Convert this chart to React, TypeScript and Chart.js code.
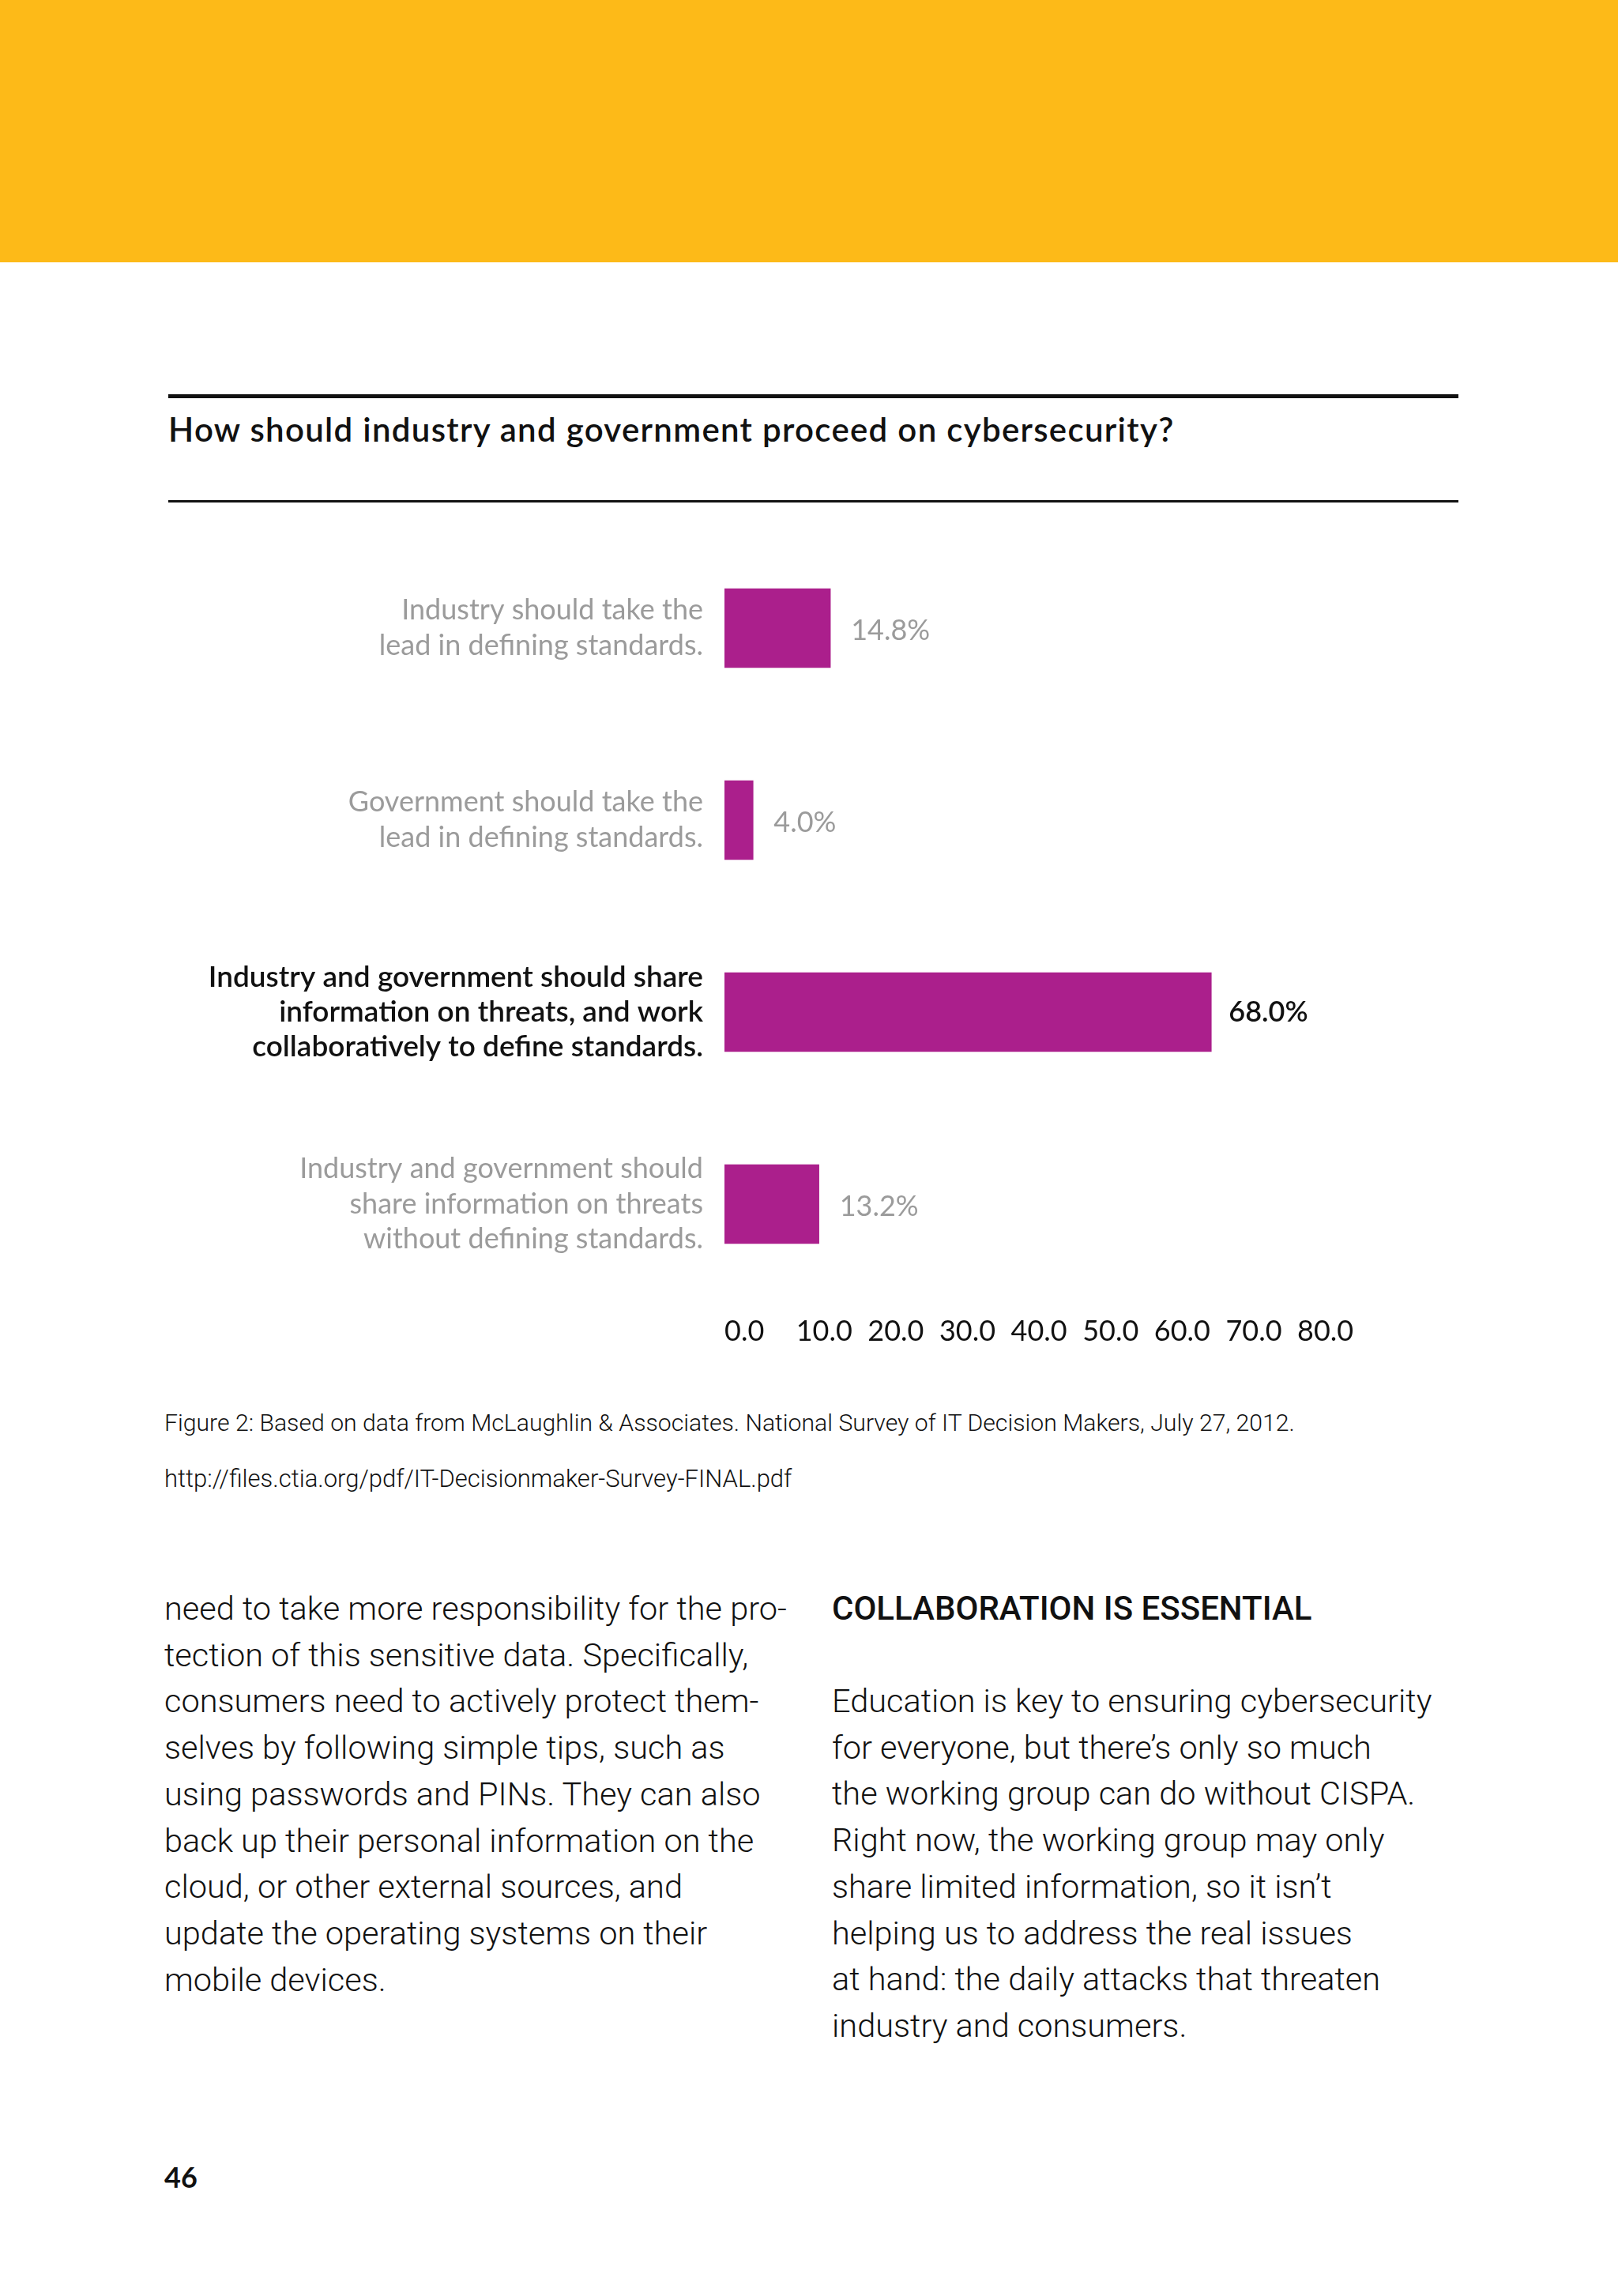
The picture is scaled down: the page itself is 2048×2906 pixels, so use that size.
import { useEffect, useRef } from 'react';
import { Chart, registerables } from 'chart.js';

Chart.register(...registerables);

// chart data
const categories: string[][] = [
  ['Industry should take the', 'lead in defining standards.'],
  ['Government should take the', 'lead in defining standards.'],
  ['Industry and government should share', 'information on threats, and work', 'collaboratively to define standards.'],
  ['Industry and government should', 'share information on threats', 'without defining standards.'],
];
const shares = [14.8, 4.0, 68.0, 13.2];
const highlightIndex = 2;
const axisMax = 80;
const axisStep = 10;

// page text
const title = 'How should industry and government proceed on cybersecurity?';
const caption = 'Figure 2: Based on data from McLaughlin & Associates. National Survey of IT Decision Makers, July 27, 2012.';
const sourceUrl = 'http://files.ctia.org/pdf/IT-Decisionmaker-Survey-FINAL.pdf';
const leftColumn = [
  'need to take more responsibility for the pro-',
  'tection of this sensitive data. Specifically,',
  'consumers need to actively protect them-',
  'selves by following simple tips, such as',
  'using passwords and PINs. They can also',
  'back up their personal information on the',
  'cloud, or other external sources, and',
  'update the operating systems on their',
  'mobile devices.',
];
const rightHeading = 'COLLABORATION IS ESSENTIAL';
const rightColumn = [
  'Education is key to ensuring cybersecurity',
  'for everyone, but there\u2019s only so much',
  'the working group can do without CISPA.',
  'Right now, the working group may only',
  'share limited information, so it isn\u2019t',
  'helping us to address the real issues',
  'at hand: the daily attacks that threaten',
  'industry and consumers.',
];

const BAR = '#ab1f8c';
const GREY = '#9b9b9b';
const INK = '#111111';
const CHART_FONT = 'Lato, "Open Sans", sans-serif';
const TEXT_FONT = 'Roboto, "Noto Sans", sans-serif';

// percent labels at the end of each bar
const valueLabels = {
  id: 'valueLabels',
  afterDatasetsDraw(chart: any) {
    const { ctx } = chart;
    const meta = chart.getDatasetMeta(0);
    ctx.save();
    ctx.textBaseline = 'middle';
    ctx.textAlign = 'left';
    meta.data.forEach((bar: any, i: number) => {
      const hi = i === highlightIndex;
      ctx.font = `${hi ? 600 : 400} 36px ${CHART_FONT}`;
      ctx.fillStyle = hi ? INK : GREY;
      ctx.fillText(shares[i].toFixed(1) + '%', bar.x + (hi ? 22 : 26), bar.y + (hi ? 0 : 3));
    });
    ctx.restore();
  },
};

function Lines({ lines, top, left, size, lh, weight = 300, color = INK, family = TEXT_FONT, spacing = 0 }: any) {
  return (
    <div
      style={{
        position: 'absolute',
        top,
        left,
        fontFamily: family,
        fontSize: size,
        lineHeight: `${lh}px`,
        fontWeight: weight,
        letterSpacing: spacing,
        color,
        whiteSpace: 'nowrap',
      }}
    >
      {lines.map((l: string, i: number) => (
        <div key={i}>{l}</div>
      ))}
    </div>
  );
}

export default function App() {
  const canvasRef = useRef<HTMLCanvasElement>(null);
  const chartRef = useRef<Chart | null>(null);

  useEffect(() => {
    document.body.style.margin = '0';
    if (!canvasRef.current) return;
    if (chartRef.current) chartRef.current.destroy();

    chartRef.current = new Chart(canvasRef.current, {
      type: 'bar',
      data: {
        labels: categories,
        datasets: [
          {
            data: shares,
            backgroundColor: BAR,
            borderWidth: 0,
            barThickness: 100,
          },
        ],
      },
      options: {
        indexAxis: 'y',
        responsive: true,
        maintainAspectRatio: false,
        animation: false,
        layout: { padding: { left: 100, right: 406, top: 123.5, bottom: 44.5 } },
        plugins: { legend: { display: false }, tooltip: { enabled: false } },
        scales: {
          x: {
            type: 'linear',
            min: 0,
            max: axisMax,
            grid: { display: false },
            border: { display: false },
            ticks: {
              stepSize: axisStep,
              align: 'start',
              padding: 10,
              color: INK,
              font: { family: CHART_FONT, size: 36 },
              callback: (v: any) => Number(v).toFixed(1),
            },
            afterFit: (s: any) => {
              s.height = 60;
            },
          },
          y: {
            grid: { display: false },
            border: { display: false },
            ticks: {
              padding: 19,
              color: (c: any) => (c.index === highlightIndex ? INK : GREY),
              font: (c: any) =>
                c.index === highlightIndex
                  ? { family: CHART_FONT, size: 37, weight: '600', lineHeight: 1.2 }
                  : { family: CHART_FONT, size: 36, weight: '400', lineHeight: 1.236 },
            },
            afterFit: (s: any) => {
              s.width = 817;
            },
          },
        },
      },
      plugins: [valueLabels],
    } as any);

    return () => {
      if (chartRef.current) {
        chartRef.current.destroy();
        chartRef.current = null;
      }
    };
  }, []);

  return (
    <div style={{ position: 'relative', width: 2048, height: 2906, background: '#fff', overflow: 'hidden' }}>
      <div style={{ position: 'absolute', left: 0, top: 0, width: 2048, height: 332, background: '#fdba18' }} />
      <div style={{ position: 'absolute', left: 213, top: 499, width: 1633, height: 5, background: INK }} />
      <div
        style={{
          position: 'absolute',
          left: 213,
          top: 518,
          fontFamily: CHART_FONT,
          fontSize: 42,
          fontWeight: 600,
          letterSpacing: 1.3,
          lineHeight: '50px',
          color: INK,
          whiteSpace: 'nowrap',
        }}
      >
        {title}
      </div>
      <div style={{ position: 'absolute', left: 213, top: 633, width: 1633, height: 3, background: INK }} />

      <div style={{ position: 'absolute', left: 0, top: 550, width: 2048, height: 1200 }}>
        <canvas ref={canvasRef}></canvas>
      </div>

      <Lines lines={[caption]} top={1781} left={208} size={30.2} lh={40} />
      <Lines lines={[sourceUrl]} top={1852} left={208} size={31} lh={40} />

      <Lines lines={leftColumn} top={2007} left={208} size={41.5} lh={58.7} />
      <Lines lines={[rightHeading]} top={2007} left={1053} size={42} lh={58.7} weight={500} />
      <Lines lines={rightColumn} top={2124} left={1053} size={41.5} lh={58.7} />

      <div
        style={{
          position: 'absolute',
          left: 208,
          top: 2732,
          fontFamily: CHART_FONT,
          fontSize: 36,
          fontWeight: 700,
          lineHeight: '46px',
          color: INK,
        }}
      >
        46
      </div>
    </div>
  );
}
